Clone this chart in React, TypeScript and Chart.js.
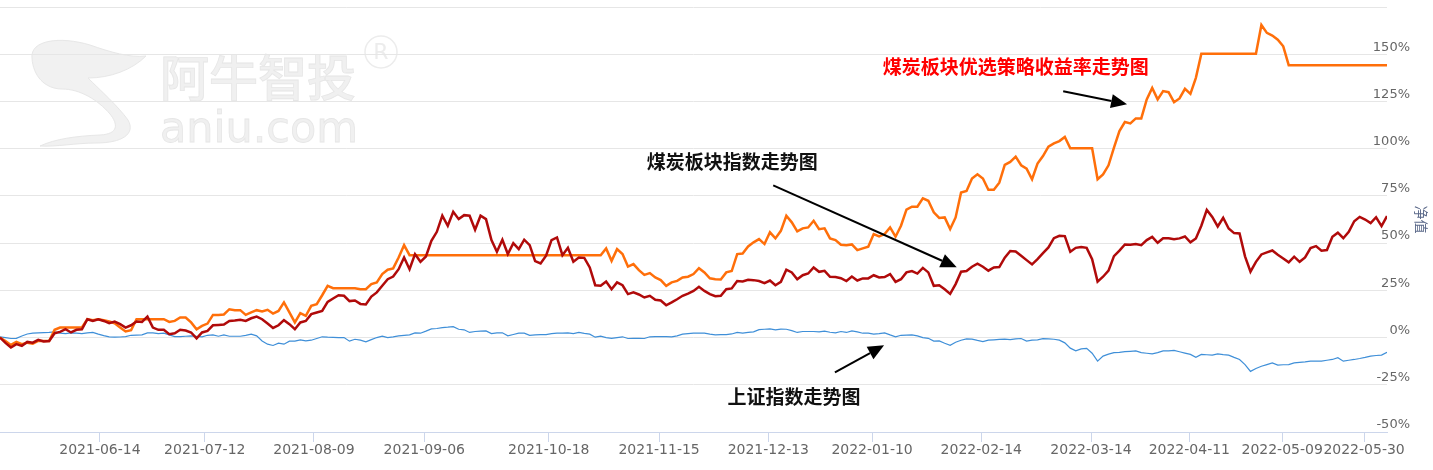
import React, { useEffect, useRef } from 'react';
import { Chart, registerables } from 'chart.js';

Chart.register(...registerables);

// trading-day index positions of the date ticks and their labels
const tickPositions = [18.3, 37.5, 57.5, 77.7, 100.5, 120.7, 140.7, 159.7, 179.7, 199.8, 217.8, 234.8, 249.8];
const tickLabels = [
  '2021-06-14', '2021-07-12', '2021-08-09', '2021-09-06', '2021-10-18', '2021-11-15', '2021-12-13',
  '2022-01-10', '2022-02-14', '2022-03-14', '2022-04-11', '2022-05-09', '2022-05-30',
];

// 煤炭板块优选策略收益率 (%), one value per trading day
const strategyReturn = [
  0, -1.8, -3.9, -2.3, -3.5, -2.7, -3.2, -1.8, -1.8, -1.8,
  4.1, 5.3, 5.3, 5.3, 5.3, 5.3, 9.7, 9.2, 9.7, 9.2,
  8.5, 7.6, 5.3, 3.2, 3.9, 9.7, 9.7, 9.7, 9.7, 9.7,
  9.7, 8.3, 8.8, 10.6, 10.6, 8.0, 4.4, 6.2, 7.4, 12.0,
  12.0, 12.2, 15.0, 14.5, 14.5, 12.0, 13.3, 14.5, 13.8, 14.7,
  12.7, 14.1, 18.6, 13.3, 8.0, 12.9, 11.5, 16.8, 17.7, 22.4,
  27.4, 26.1, 26.1, 26.1, 26.1, 26.1, 25.6, 25.6, 28.3, 29.2,
  33.6, 35.9, 36.6, 42.4, 48.9, 43.6, 43.6, 43.6, 43.6, 43.6,
  43.6, 43.6, 43.6, 43.6, 43.6, 43.6, 43.6, 43.6, 43.6, 43.6,
  43.6, 43.6, 43.6, 43.6, 43.6, 43.6, 43.6, 43.6, 43.6, 43.6,
  43.6, 43.6, 43.6, 43.6, 43.6, 43.6, 43.6, 43.6, 43.6, 43.6,
  43.6, 47.2, 40.6, 46.8, 44.2, 37.6, 38.9, 35.7, 33.2, 34.1,
  31.8, 30.4, 27.4, 29.2, 30.0, 31.8, 32.2, 33.6, 36.7, 34.5,
  31.4, 30.9, 30.7, 34.5, 35.2, 44.2, 44.5, 48.2, 50.4, 52.1,
  49.5, 55.7, 52.5, 56.5, 64.5, 61.0, 56.2, 57.8, 58.3, 61.8,
  57.4, 57.8, 52.5, 51.6, 49.1, 48.9, 49.3, 46.3, 47.2, 48.1,
  54.8, 53.5, 54.8, 58.3, 53.4, 59.2, 67.7, 69.3, 69.3, 73.7,
  72.4, 66.3, 63.3, 63.6, 57.4, 63.6, 76.8, 77.6, 84.2, 86.4,
  84.2, 78.2, 78.2, 82.0, 91.4, 93.0, 95.8, 91.2, 89.4, 83.8,
  92.1, 96.1, 101.1, 102.8, 104.0, 106.2, 100.2, 100.2, 100.2, 100.2,
  100.2, 83.8, 86.4, 91.2, 100.5, 109.3, 114.1, 113.4, 116.0, 116.0,
  126.1, 132.2, 126.1, 130.5, 129.9, 124.6, 126.6, 131.7, 129.0, 137.5,
  150.2, 150.2, 150.2, 150.2, 150.2, 150.2, 150.2, 150.2, 150.2, 150.2,
  150.2, 165.5, 161.3, 159.9, 157.7, 154.2, 144.2, 144.2, 144.2, 144.2,
  144.2, 144.2, 144.2, 144.2, 144.2, 144.2, 144.2, 144.2, 144.2, 144.2,
  144.2, 144.2, 144.2, 144.2, 144.2,
];

// 煤炭板块指数 (%)
const coalIndex = [
  0, -2.8, -5.3, -3.5, -4.4, -2.3, -2.7, -1.2, -2.1, -1.8,
  2.3, 3.0, 4.4, 2.7, 4.1, 4.4, 9.7, 8.8, 9.7, 8.8,
  7.6, 8.5, 7.1, 5.3, 6.5, 8.5, 8.3, 11.1, 5.3, 4.1,
  4.1, 1.8, 2.3, 4.1, 3.7, 2.7, -0.4, 2.7, 3.5, 6.5,
  6.7, 6.9, 8.8, 9.0, 9.4, 8.8, 10.2, 11.1, 9.7, 7.4,
  5.1, 6.5, 9.2, 7.1, 4.4, 8.0, 8.8, 12.4, 13.3, 14.1,
  18.9, 20.7, 22.4, 22.1, 19.3, 19.6, 17.8, 17.5, 21.7, 23.9,
  27.4, 30.9, 32.3, 36.2, 42.4, 36.2, 44.2, 40.1, 42.9, 51.2,
  56.0, 64.5, 59.2, 66.6, 62.7, 64.8, 64.5, 57.1, 64.5, 62.7,
  51.6, 45.4, 51.8, 44.2, 50.0, 46.8, 51.8, 48.9, 40.5, 39.2,
  43.3, 51.6, 53.0, 43.6, 47.5, 40.1, 42.4, 42.2, 37.1, 27.7,
  27.4, 29.7, 25.6, 29.2, 27.7, 23.0, 23.9, 22.8, 21.2, 22.1,
  20.0, 19.6, 17.1, 18.6, 20.3, 22.1, 23.3, 24.7, 26.9, 24.7,
  23.0, 21.9, 22.1, 25.6, 26.0, 29.9, 29.7, 30.6, 30.4, 29.9,
  28.8, 30.2, 27.7, 29.5, 35.9, 34.5, 30.9, 33.0, 33.9, 37.1,
  34.8, 35.3, 32.2, 32.0, 31.4, 29.9, 32.3, 30.2, 31.3, 31.3,
  33.0, 31.8, 32.0, 33.6, 29.5, 30.9, 34.5, 35.2, 33.9, 36.9,
  34.5, 27.4, 27.7, 25.6, 23.1, 28.3, 34.9, 35.2, 37.5, 39.1,
  37.5, 35.4, 37.1, 37.3, 42.3, 45.8, 45.6, 43.3, 41.0, 38.7,
  41.5, 44.7, 47.7, 52.6, 53.9, 53.7, 45.4, 47.5, 47.9, 47.5,
  41.5, 29.6, 32.2, 35.4, 43.1, 46.0, 49.3, 49.1, 49.5, 48.9,
  51.6, 53.3, 50.2, 52.6, 52.6, 52.1, 52.5, 53.5, 50.4, 52.5,
  59.2, 67.6, 63.9, 58.8, 63.4, 57.7, 55.3, 55.1, 43.0, 34.9,
  40.1, 44.0, 45.1, 46.1, 43.8, 41.9, 39.8, 42.8, 40.1, 42.4,
  47.4, 48.4, 46.0, 46.3, 53.3, 55.5, 52.6, 56.0, 61.6, 63.9,
  62.5, 60.6, 63.7, 59.0, 64.3,
];

// 上证指数 (%)
const shIndex = [
  0.4, 0, -0.5, -0.4, 0.8, 1.9, 2.3, 2.5, 2.6, 2.7,
  3.0, 2.3, 2.1, 2.5, 2.3, 2.1, 2.5, 2.7, 1.8, 1.0,
  0.4, 0.2, 0.3, 0.5, 1.2, 1.3, 1.4, 2.5, 2.5, 2.1,
  2.3, 1.4, 0.5, 0.5, 0.7, 0.9, 0.6, 0.4, 1.2, 1.4,
  0.7, 1.4, 0.7, 0.7, 0.7, 1.2, 1.8, 0.9, -1.8, -3.5,
  -4.2, -3.0, -3.5, -1.9, -1.9, -1.2, -1.8, -1.4, -0.5, 0.4,
  0.2, 0.1, 0, 0, -1.9, -0.9, -1.4, -2.3, -1.1, 0,
  0.7, 0, 0.4, 0.9, 1.2, 1.4, 2.5, 2.3, 3.4, 4.6,
  4.8, 5.3, 5.5, 5.8, 4.4, 4.1, 2.7, 3.2, 3.4, 3.5,
  2.1, 2.5, 2.5, 0.9, 1.6, 2.3, 2.3, 1.2, 1.4, 1.5,
  1.6, 2.1, 2.3, 2.3, 2.5, 2.1, 2.7, 2.2, 1.8, 0.2,
  0.7, 0, -0.4, 0, 0.4, -0.5, -0.4, -0.4, -0.5, 0.4,
  0.5, 0.5, 0.5, 0.4, 0.9, 1.8, 2.1, 2.3, 2.3, 2.3,
  1.8, 1.4, 1.6, 1.6, 1.9, 2.7, 2.3, 2.7, 3.0, 4.2,
  4.4, 4.6, 4.1, 4.5, 4.4, 3.7, 2.7, 3.2, 3.2, 3.2,
  3.0, 3.4, 2.8, 2.5, 3.2, 2.7, 3.5, 3.0, 2.3, 2.3,
  1.8, 2.1, 2.5, 1.4, 0.4, 1.2, 1.3, 1.4, 0.9, 0,
  -0.4, -1.9, -1.8, -3.0, -4.1, -2.5, -1.4, -0.7, -0.8, -1.5,
  -2.1, -1.4, -1.2, -1.0, -0.8, -1.1, -0.7, -0.5, -1.9, -1.4,
  -1.2, -0.6, -0.7, -0.9, -1.4, -2.8, -5.6, -7.0, -6.0, -5.7,
  -8.3, -12.5, -9.8, -8.8, -8.0, -7.8, -7.5, -7.3, -7.1, -8.0,
  -8.3, -8.6, -8.0, -7.1, -7.0, -6.8, -7.5, -8.2, -8.9, -10.4,
  -8.9, -9.1, -9.3, -8.6, -9.0, -9.3, -10.5, -11.6, -14.3, -17.9,
  -16.4, -15.2, -14.3, -13.4, -14.6, -14.4, -14.3, -13.4, -13.1, -12.9,
  -12.5, -12.5, -12.5, -12.0, -11.6, -10.7, -12.5, -12.0, -11.6, -11.1,
  -10.5, -9.8, -9.5, -9.3, -7.8,
];

const yTickValues = [-50, -25, 0, 25, 50, 75, 100, 125, 150];
const yAxisTitle = '净值';

// annotations in data coordinates (trading-day index, %)
const annotationTexts = [
  { text: '煤炭板块优选策略收益率走势图', day: 186.0, value: 143.1, color: '#ff0000' },
  { text: '煤炭板块指数走势图', day: 134.1, value: 92.8, color: '#111111' },
  { text: '上证指数走势图', day: 145.4, value: -31.6, color: '#111111' },
];
const annotationArrows = [
  { fromDay: 194.7, fromValue: 130.4, toDay: 206.4, toValue: 123.5 },
  { fromDay: 141.6, fromValue: 80.6, toDay: 175.2, toValue: 37.2 },
  { fromDay: 152.9, fromValue: -18.4, toDay: 161.9, toValue: -4.1 },
];

const watermarkPlugin = {
  id: 'watermark',
  beforeDraw(chart: any) {
    const ctx = chart.ctx as CanvasRenderingContext2D;
    ctx.save();
    ctx.fillStyle = '#ffffff';
    ctx.fillRect(0, 0, chart.width, chart.height);
    // swoosh logo
    ctx.fillStyle = '#f1f1f1';
    ctx.strokeStyle = '#e7e7e7';
    ctx.lineWidth = 1;
    ctx.beginPath();
    ctx.moveTo(32, 58);
    ctx.bezierCurveTo(30, 40, 60, 36, 90, 45);
    ctx.bezierCurveTo(110, 52, 130, 58, 146, 56);
    ctx.bezierCurveTo(132, 70, 110, 78, 88, 78);
    ctx.bezierCurveTo(100, 90, 118, 106, 128, 120);
    ctx.bezierCurveTo(136, 134, 122, 143, 96, 143);
    ctx.bezierCurveTo(76, 143, 56, 147, 40, 146);
    ctx.bezierCurveTo(55, 139, 76, 136, 100, 135);
    ctx.bezierCurveTo(119, 134, 118, 124, 110, 114);
    ctx.bezierCurveTo(98, 100, 80, 89, 62, 89);
    ctx.bezierCurveTo(45, 89, 33, 76, 32, 58);
    ctx.fill();
    ctx.stroke();
    // name
    ctx.fillStyle = '#f0f0f0';
    ctx.strokeStyle = '#e6e6e6';
    ctx.lineWidth = 0.8;
    ctx.font = '500 49px "Noto Sans CJK SC"';
    ctx.textBaseline = 'alphabetic';
    ctx.textAlign = 'left';
    ctx.fillText('阿牛智投', 160, 96);
    ctx.strokeText('阿牛智投', 160, 96);
    ctx.font = '43px "DejaVu Sans"';
    const w = ctx.measureText('aniu.com').width;
    const size = 43 * 198 / w;
    ctx.font = `${size}px "DejaVu Sans"`;
    ctx.fillText('aniu.com', 160, 142);
    ctx.strokeText('aniu.com', 160, 142);
    ctx.strokeStyle = '#ececec';
    ctx.lineWidth = 1.5;
    ctx.beginPath();
    ctx.arc(381, 52, 16, 0, Math.PI * 2);
    ctx.stroke();
    ctx.fillStyle = '#ececec';
    ctx.font = '22px "DejaVu Sans"';
    ctx.textAlign = 'center';
    ctx.textBaseline = 'middle';
    ctx.fillText('R', 381, 53);
    ctx.restore();
  },
};

const overlayPlugin = {
  id: 'overlay',
  afterDraw(chart: any) {
    const ctx = chart.ctx as CanvasRenderingContext2D;
    const xs = chart.scales.x;
    const ys = chart.scales.y;
    const area = chart.chartArea;
    ctx.save();
    // y tick labels
    ctx.font = '13px "DejaVu Sans"';
    ctx.fillStyle = '#666666';
    ctx.textAlign = 'right';
    ctx.textBaseline = 'middle';
    yTickValues.forEach((v) => {
      ctx.fillText(`${v}%`, area.right + 23, ys.getPixelForValue(v) - 7);
    });
    // y axis title
    ctx.save();
    ctx.translate(area.right + 34, (area.top + area.bottom) / 2);
    ctx.rotate(Math.PI / 2);
    ctx.font = '14px "Noto Sans CJK SC"';
    ctx.fillStyle = '#5c6a8a';
    ctx.textAlign = 'center';
    ctx.textBaseline = 'middle';
    ctx.fillText(yAxisTitle, 0, 0);
    ctx.restore();
    // arrows
    ctx.strokeStyle = '#000000';
    ctx.fillStyle = '#000000';
    ctx.lineWidth = 2;
    annotationArrows.forEach((a) => {
      const x1 = xs.getPixelForValue(a.fromDay);
      const y1 = ys.getPixelForValue(a.fromValue);
      const x2 = xs.getPixelForValue(a.toDay);
      const y2 = ys.getPixelForValue(a.toValue);
      const ang = Math.atan2(y2 - y1, x2 - x1);
      const head = 16;
      const half = 7;
      const bx = x2 - head * Math.cos(ang);
      const by = y2 - head * Math.sin(ang);
      ctx.beginPath();
      ctx.moveTo(x1, y1);
      ctx.lineTo(bx, by);
      ctx.stroke();
      ctx.beginPath();
      ctx.moveTo(x2, y2);
      ctx.lineTo(bx + half * Math.sin(ang), by - half * Math.cos(ang));
      ctx.lineTo(bx - half * Math.sin(ang), by + half * Math.cos(ang));
      ctx.closePath();
      ctx.fill();
    });
    // annotation texts
    ctx.font = 'bold 19px "Noto Sans CJK SC"';
    ctx.textAlign = 'center';
    ctx.textBaseline = 'middle';
    annotationTexts.forEach((t) => {
      ctx.fillStyle = t.color;
      ctx.fillText(t.text, xs.getPixelForValue(t.day), ys.getPixelForValue(t.value));
    });
    ctx.restore();
  },
};

export default function App() {
  const canvasRef = useRef<HTMLCanvasElement | null>(null);

  useEffect(() => {
    document.body.style.margin = '0';
    const canvas = canvasRef.current;
    if (!canvas) return;
    const toPoints = (arr: number[]) => arr.map((v, i) => ({ x: i, y: v }));
    const chart = new Chart(canvas, {
      type: 'line',
      data: {
        datasets: [
          {
            label: '上证指数',
            data: toPoints(shIndex),
            borderColor: '#3f8fd8',
            borderWidth: 1.2,
            pointRadius: 0,
            tension: 0,
            order: 3,
          },
          {
            label: '煤炭板块指数',
            data: toPoints(coalIndex),
            borderColor: '#b00a0a',
            borderWidth: 2.5,
            pointRadius: 0,
            tension: 0,
            order: 1,
          },
          {
            label: '煤炭板块优选策略收益率',
            data: toPoints(strategyReturn),
            borderColor: '#ff6f0a',
            borderWidth: 2.5,
            pointRadius: 0,
            tension: 0,
            order: 2,
          },
        ],
      },
      options: {
        animation: false,
        responsive: false,
        maintainAspectRatio: false,
        layout: { padding: { top: 7, left: 0, right: 0, bottom: 0 } },
        plugins: {
          legend: { display: false },
          tooltip: { enabled: false },
        },
        scales: {
          x: {
            type: 'linear',
            min: 0,
            max: strategyReturn.length - 1,
            afterBuildTicks: (scale: any) => {
              scale.ticks = tickPositions.map((v) => ({ value: v }));
            },
            afterFit: (scale: any) => {
              scale.height = 38;
            },
            ticks: {
              autoSkip: false,
              maxRotation: 0,
              minRotation: 0,
              padding: 0,
              color: '#666666',
              font: { family: 'DejaVu Sans', size: 14 },
              callback: (_v: any, i: number) => tickLabels[i],
            },
            grid: {
              drawOnChartArea: false,
              drawTicks: true,
              tickLength: 10,
              color: '#ccd6eb',
              lineWidth: 1,
            },
            border: { color: '#ccd6eb', width: 1 },
          },
          y: {
            position: 'right',
            min: -50,
            max: 175,
            afterBuildTicks: (scale: any) => {
              scale.ticks = [...yTickValues, 175].map((v) => ({ value: v }));
            },
            afterFit: (scale: any) => {
              scale.width = 46;
            },
            ticks: { display: false },
            grid: { color: '#e6e6e6', lineWidth: 1, drawTicks: false },
            border: { display: false },
          },
        },
      },
      plugins: [watermarkPlugin, overlayPlugin],
    });
    return () => chart.destroy();
  }, []);

  return (
    <div style={{ width: 1433, height: 470, position: 'relative' }}>
      <canvas ref={canvasRef} width={1433} height={470} style={{ display: 'block', width: 1433, height: 470 }} />
    </div>
  );
}
